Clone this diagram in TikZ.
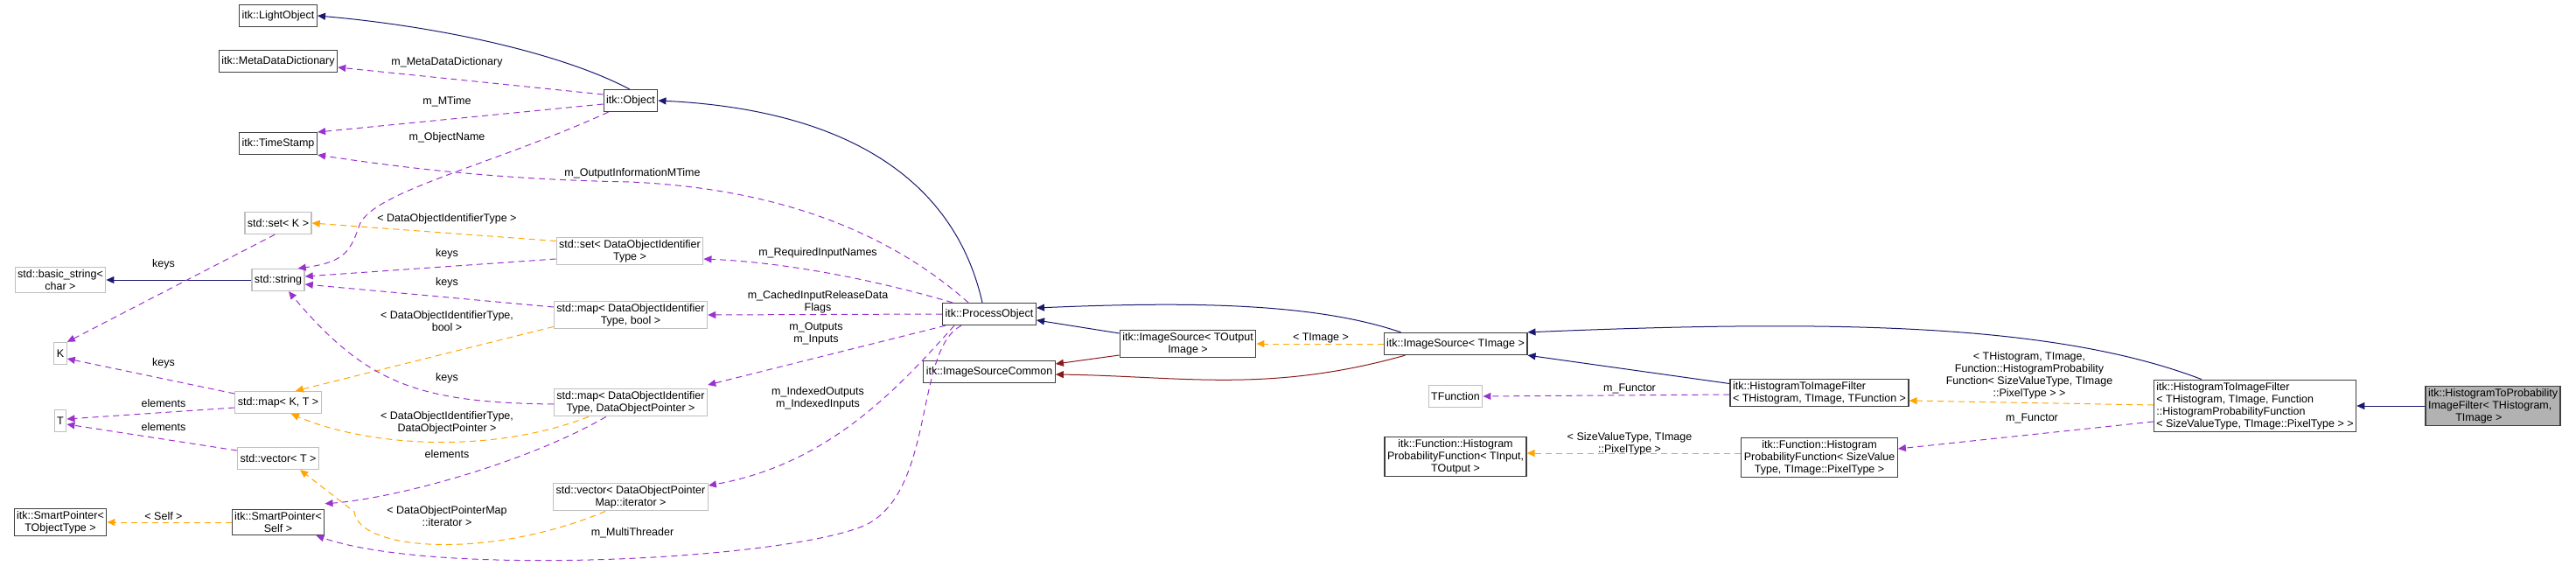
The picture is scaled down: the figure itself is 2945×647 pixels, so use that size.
\documentclass[tikz,border=0pt]{standalone}
\usepackage{fontspec}
\setmainfont{Liberation Sans}
\usetikzlibrary{arrows.meta}

\definecolor{inhblue}{HTML}{191970}
\definecolor{usepurple}{HTML}{9A32CD}
\definecolor{tplorange}{HTML}{FFA500}
\definecolor{protred}{HTML}{8B1A1A}

\tikzset{
  cls/.style={draw=black!75, line width=1.3pt, fill=white, inner sep=3pt, minimum height=25pt, align=center, font=\fontsize{12.5}{14}\selectfont},
  ext/.style={cls, draw=black!25},
  cur/.style={cls, fill=black!30},
  lbl/.style={align=center, inner sep=0pt, font=\fontsize{12.5}{14}\selectfont},
  tip/.style={-{Triangle[length=9pt,width=8pt]}},
  inh/.style={tip, draw=inhblue, line width=1pt},
  prot/.style={tip, draw=protred, line width=1pt},
  uses/.style={tip, draw=usepurple, line width=1pt, dash pattern=on 7pt off 5pt},
  tpl/.style={tip, draw=tplorange, line width=1pt, dash pattern=on 7pt off 5pt},
}

\begin{document}
\begin{tikzpicture}[x=1pt, y=-1pt]
	\useasboundingbox (0,0) rectangle (2945,647);

	% left column
	\node[cls](lightobj) at (318,18) {itk::LightObject};
	\node[cls](metadict) at (318,70) {itk::MetaDataDictionary};
	\node[cls](timestamp) at (318,164) {itk::TimeStamp};
	\node[ext](setk) at (318,255) {std::set< K >};
	\node[ext](basicstr) at (69,320) {std::basic\_string<\\char >};
	\node[ext](stdstr) at (318,320) {std::string};
	\node[ext](keyk) at (69,404) {K};
	\node[ext](mapkt) at (318,460) {std::map< K, T >};
	\node[ext](valt) at (69,481) {T};
	\node[ext](vect) at (318,524) {std::vector< T >};
	\node[cls](sptobj) at (69,597) {itk::SmartPointer<\\TObjectType >};
	\node[cls](spself) at (318,597) {itk::SmartPointer<\\Self >};

	% second column
	\node[cls](object) at (721,115) {itk::Object};
	\node[ext](setdoi) at (720,287) {std::set< DataObjectIdentifier\\Type >};
	\node[ext](mapbool) at (721,360) {std::map< DataObjectIdentifier\\Type, bool >};
	\node[ext](mapdop) at (721,460) {std::map< DataObjectIdentifier\\Type, DataObjectPointer >};
	\node[ext](vecdop) at (721,568) {std::vector< DataObjectPointer\\Map::iterator >};

	% middle
	\node[cls](procobj) at (1131,359) {itk::ProcessObject};
	\node[cls](isrcout) at (1358,393) {itk::ImageSource< TOutput\\Image >};
	\node[cls](isrccom) at (1131,425) {itk::ImageSourceCommon};
	\node[cls](isrcimg) at (1664,393) {itk::ImageSource< TImage >};
	\node[ext](tfunc) at (1664,453) {TFunction};
	\node[cls](hpfgen) at (1664,522) {itk::Function::Histogram\\ProbabilityFunction< TInput,\\TOutput >};

	% right
	\node[cls, align=left](htifgen) at (2080,449) {itk::HistogramToImageFilter\\< THistogram, TImage, TFunction >};
	\node[cls](hpfsv) at (2080,523) {itk::Function::Histogram\\ProbabilityFunction< SizeValue\\Type, TImage::PixelType >};
	\node[cls, align=left](htifhpf) at (2578,464) {itk::HistogramToImageFilter\\< THistogram, TImage, Function\\::HistogramProbabilityFunction\\< SizeValueType, TImage::PixelType > >};
	\node[cur, align=left](htpif) at (2850,464) {itk::HistogramToProbability\\ImageFilter< THistogram,\\\hspace*{2.5em}TImage >};

	% inheritance
	\draw[inh] (object.north west) ++(30,0) .. controls (640,60) and (500,30) .. (lightobj.east);
	\draw[inh] (procobj.north) ++(-8,0) .. controls (1090,200) and (960,125) .. (object.east);
	\draw[inh] (stdstr) -- (basicstr);
	\draw[inh] (isrcout.west |- 0,381) -- (procobj.east |- 0,366);
	\draw[inh] (isrcimg.north west) ++(20,0) .. controls (1500,345) and (1350,345) .. (procobj.east |- 0,352);
	\draw[inh] (htifgen.north west) ++(0,6) -- (isrcimg.south east);
	\draw[inh] (htifhpf.north west) ++(55,0) .. controls (2350,370) and (2100,365) .. (isrcimg.north east);
	\draw[inh] (htpif) -- (htifhpf);
	\draw[prot] (isrcout.west |- 0,406) -- (isrccom.east |- 0,416);
	\draw[prot] (isrcimg.south west) ++(25,0) .. controls (1450,450) and (1350,430) .. (isrccom.east |- 0,428);

	% template instances
	\draw[tpl] (setdoi.north west) ++(0,5) -- (setk.east);
	\draw[tpl] (mapbool.south west) ++(0,-3) -- ([xshift=-30pt]mapkt.north east);
	\draw[tpl] ([xshift=40pt]mapdop.south west) .. controls (560,520) and (420,510) .. ([xshift=-35pt]mapkt.south east);
	\draw[tpl] ([xshift=60pt]vecdop.south west) .. controls (560,640) and (410,630) .. (405,585) -- ([xshift=-22pt]vect.south east);
	\draw[tpl] (spself) -- (sptobj);
	\draw[tpl] (isrcimg) -- (isrcout);
	\draw[tpl] (hpfsv.west |- 0,518) -- (hpfgen.east |- 0,518);
	\draw[tpl] (htifhpf.west |- 0,463) -- (htifgen.east |- 0,458);

	% members
	\draw[uses] (object.west |- 0,108) -- (metadict.east |- 0,77);
	\draw[uses] (object.west |- 0,119) -- (timestamp.east |- 0,151);
	\draw[uses] ([xshift=6pt]object.south west) .. controls (560,190) and (420,220) .. (410,260) .. controls (400,290) and (390,300) .. ([xshift=-8pt]stdstr.north east);
	\draw[uses] ([xshift=30pt]procobj.north west) .. controls (1010,260) and (880,215) .. (720,208) .. controls (560,205) and (450,190) .. (timestamp.south east);
	\draw[uses] ([xshift=35pt]setk.south west) -- (keyk.north east);
	\draw[uses] (setdoi.west |- 0,296) -- (stdstr.east |- 0,316);
	\draw[uses] (mapbool.west |- 0,351) -- (stdstr.east |- 0,325);
	\draw[uses] (mapdop.west |- 0,462) .. controls (480,460) and (420,440) .. ([xshift=12pt]stdstr.south);
	\draw[uses] (mapkt.west |- 0,450) -- (keyk.east |- 0,410);
	\draw[uses] (mapkt.west |- 0,466) -- (valt.east |- 0,479);
	\draw[uses] (vect.west |- 0,515) -- (valt.east |- 0,485);
	\draw[uses] ([xshift=60pt]mapdop.south west) .. controls (600,530) and (450,570) .. ([yshift=6pt]spself.north east);
	\draw[uses] ([xshift=12pt]procobj.north west) .. controls (1000,320) and (900,300) .. (setdoi.east |- 0,296);
	\draw[uses] (procobj.west) -- (mapbool.east);
	\draw[uses] ([xshift=4pt]procobj.south west) -- (mapdop.east |- 0,440);
	\draw[uses] ([xshift=14pt]procobj.south west) .. controls (1030,440) and (950,530) .. (vecdop.east |- 0,555);
	\draw[uses] ([xshift=22pt]procobj.south west) .. controls (1045,400) and (1070,560) .. (990,600) .. controls (900,640) and (500,660) .. ([xshift=-10pt]spself.south east);
	\draw[uses] (htifgen.west |- 0,451) -- (tfunc.east);
	\draw[uses] (htifhpf.west |- 0,482) -- (hpfsv.east |- 0,513);

	% labels
	\node[lbl](lkeys1) at (187,302) {keys};
	\node[lbl](lkeys2) at (187,415) {keys};
	\node[lbl](lelem1) at (187,461) {elements};
	\node[lbl](lelem2) at (187,488) {elements};
	\node[lbl](lself) at (187,590) {< Self >};
	\node[lbl](lmeta) at (511,71) {m\_MetaDataDictionary};
	\node[lbl](lmtime) at (511,116) {m\_MTime};
	\node[lbl](lname) at (511,157) {m\_ObjectName};
	\node[lbl](loutinfo) at (723,198) {m\_OutputInformationMTime};
	\node[lbl](ldoit) at (511,250) {< DataObjectIdentifierType >};
	\node[lbl](lkeys3) at (511,290) {keys};
	\node[lbl](lkeys4) at (511,323) {keys};
	\node[lbl](ldoitb) at (511,367) {< DataObjectIdentifierType,\\bool >};
	\node[lbl](lkeys5) at (511,432) {keys};
	\node[lbl](ldoitp) at (511,483) {< DataObjectIdentifierType,\\DataObjectPointer >};
	\node[lbl](lelem3) at (511,519) {elements};
	\node[lbl](ldopm) at (511,590) {< DataObjectPointerMap\\::iterator >};
	\node[lbl](lthread) at (723,609) {m\_MultiThreader};
	\node[lbl](lreq) at (935,289) {m\_RequiredInputNames};
	\node[lbl](lcached) at (935,345) {m\_CachedInputReleaseData\\Flags};
	\node[lbl](lio) at (933,381) {m\_Outputs\\m\_Inputs};
	\node[lbl](lidx) at (935,455) {m\_IndexedOutputs\\m\_IndexedInputs};
	\node[lbl](ltimage) at (1510,386) {< TImage >};
	\node[lbl](lfunc1) at (1863,444) {m\_Functor};
	\node[lbl](lsvt) at (1863,507) {< SizeValueType, TImage\\::PixelType >};
	\node[lbl](lhtif) at (2320,429) {< THistogram, TImage,\\Function::HistogramProbability\\Function< SizeValueType, TImage\\::PixelType > >};
	\node[lbl](lfunc2) at (2323,478) {m\_Functor};
\end{tikzpicture}
\end{document}
